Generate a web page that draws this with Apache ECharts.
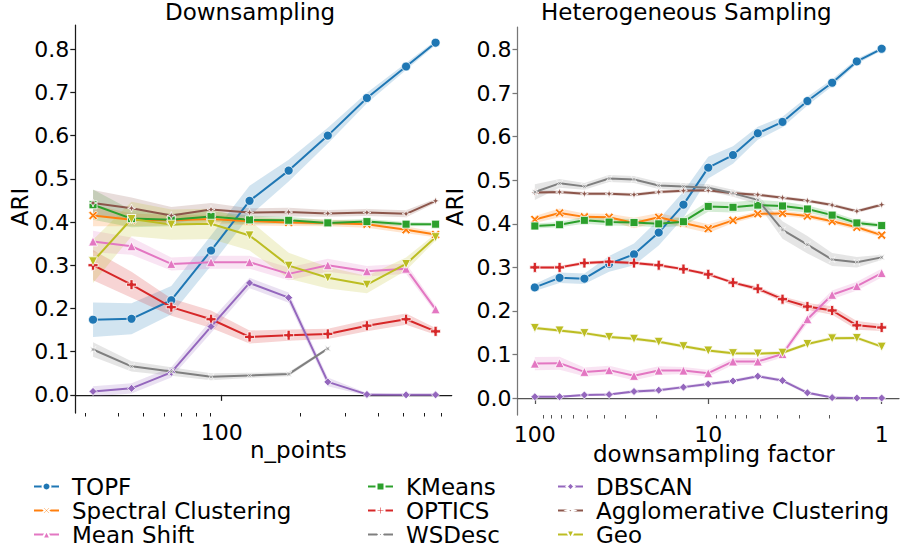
<!DOCTYPE html>
<html><head><meta charset="utf-8">
<script src="https://cdn.jsdelivr.net/npm/echarts@6/dist/echarts.min.js"></script>
<style>html,body{margin:0;padding:0;background:#fff}#c{width:900px;height:550px}</style>
</head><body><div id="c"></div>
<script>
// ---------- data ----------
const nPoints = [32, 45, 64, 91, 128, 181, 256, 362, 512, 665];
const dsFactor = [100, 72, 51.8, 37.3, 26.8, 19.3, 13.9, 10, 7.2, 5.18, 3.73, 2.68, 1.93, 1.39, 1];

const methods = ['TOPF','Spectral Clustering','Mean Shift','KMeans','OPTICS','WSDesc','DBSCAN','Agglomerative Clustering','Geo'];

// Downsampling (mean, CI half width)
const downTOPF   = [0.174, 0.176, 0.219, 0.334, 0.449, 0.519, 0.600, 0.687, 0.760, 0.815];
const downTOPFci = [0.040, 0.036, 0.033, 0.035, 0.035, 0.025, 0.018, 0.012, 0.008, 0.005];
const downSpec   = [0.415, 0.405, 0.404, 0.407, 0.402, 0.399, 0.398, 0.395, 0.382, 0.371];
const downSpecci = [0.025, 0.015, 0.012, 0.010, 0.010, 0.008, 0.008, 0.008, 0.008, 0.006];
const downMS     = [0.355, 0.344, 0.303, 0.307, 0.307, 0.280, 0.300, 0.286, 0.292, 0.198];
const downMSci   = [0.025, 0.020, 0.015, 0.015, 0.015, 0.015, 0.015, 0.012, 0.012, 0.008];
const downKM     = [0.440, 0.408, 0.405, 0.413, 0.405, 0.404, 0.398, 0.401, 0.395, 0.395];
const downKMci   = [0.035, 0.020, 0.015, 0.012, 0.010, 0.008, 0.006, 0.006, 0.005, 0.004];
const downOPT    = [0.300, 0.255, 0.203, 0.175, 0.134, 0.138, 0.141, 0.160, 0.175, 0.147];
const downOPTci  = [0.035, 0.030, 0.020, 0.020, 0.015, 0.013, 0.012, 0.013, 0.013, 0.008];
const downWSD    = [0.105, 0.066, 0.054, 0.042, 0.045, 0.048, 0.107];
const downWSDci  = [0.017, 0.012, 0.010, 0.008, 0.006, 0.005, 0.003];
const downDB     = [0.008, 0.015, 0.052, 0.158, 0.259, 0.225, 0.030, 0.001, 0.000, 0.000];
const downDBci   = [0.012, 0.012, 0.012, 0.015, 0.012, 0.012, 0.010, 0.003, 0.001, 0.001];
const downAGG    = [0.444, 0.432, 0.415, 0.429, 0.422, 0.423, 0.420, 0.422, 0.419, 0.449];
const downAGGci  = [0.030, 0.025, 0.020, 0.015, 0.010, 0.010, 0.008, 0.008, 0.008, 0.005];
const downGEO    = [0.309, 0.407, 0.394, 0.396, 0.369, 0.299, 0.271, 0.255, 0.303, 0.365];
const downGEOci  = [0.050, 0.040, 0.035, 0.035, 0.035, 0.030, 0.025, 0.020, 0.015, 0.008];

// Heterogeneous sampling
const hetTOPF   = [0.254, 0.276, 0.274, 0.308, 0.330, 0.380, 0.444, 0.529, 0.558, 0.608, 0.634, 0.682, 0.724, 0.773, 0.802];
const hetTOPFci = [0.008, 0.012, 0.012, 0.018, 0.025, 0.030, 0.030, 0.025, 0.020, 0.015, 0.012, 0.010, 0.008, 0.006, 0.004];
const hetSpec   = [0.410, 0.425, 0.416, 0.415, 0.402, 0.415, 0.402, 0.389, 0.408, 0.423, 0.424, 0.418, 0.406, 0.392, 0.374];
const hetSpecci = [0.008, 0.010, 0.008, 0.008, 0.012, 0.010, 0.010, 0.010, 0.006, 0.006, 0.006, 0.006, 0.006, 0.006, 0.005];
const hetMS     = [0.079, 0.080, 0.060, 0.064, 0.051, 0.063, 0.063, 0.057, 0.084, 0.084, 0.101, 0.181, 0.237, 0.257, 0.287];
const hetMSci   = [0.015, 0.015, 0.010, 0.010, 0.010, 0.010, 0.008, 0.008, 0.008, 0.008, 0.008, 0.010, 0.010, 0.010, 0.010];
const hetKM     = [0.395, 0.398, 0.408, 0.404, 0.403, 0.400, 0.405, 0.440, 0.438, 0.443, 0.441, 0.434, 0.420, 0.402, 0.396];
const hetKMci   = [0.006, 0.006, 0.008, 0.008, 0.008, 0.008, 0.010, 0.012, 0.012, 0.012, 0.010, 0.008, 0.008, 0.006, 0.005];
const hetOPT    = [0.300, 0.300, 0.310, 0.313, 0.310, 0.305, 0.296, 0.284, 0.265, 0.251, 0.227, 0.210, 0.201, 0.167, 0.162];
const hetOPTci  = [0.004, 0.004, 0.004, 0.004, 0.004, 0.004, 0.004, 0.004, 0.004, 0.005, 0.006, 0.008, 0.010, 0.010, 0.008];
const hetWSD    = [0.473, 0.493, 0.486, 0.504, 0.502, 0.488, 0.486, 0.483, 0.470, 0.455, 0.386, 0.352, 0.318, 0.312, 0.323];
const hetWSDci  = [0.018, 0.010, 0.008, 0.008, 0.008, 0.008, 0.008, 0.008, 0.008, 0.010, 0.020, 0.020, 0.015, 0.012, 0.006];
const hetDB     = [0.003, 0.003, 0.007, 0.008, 0.015, 0.018, 0.025, 0.032, 0.039, 0.050, 0.040, 0.012, 0.001, 0.000, 0.000];
const hetDBci   = [0.003, 0.003, 0.003, 0.003, 0.004, 0.004, 0.004, 0.004, 0.004, 0.004, 0.004, 0.004, 0.002, 0.001, 0.001];
const hetAGG    = [0.472, 0.473, 0.469, 0.469, 0.467, 0.473, 0.476, 0.477, 0.470, 0.467, 0.460, 0.453, 0.443, 0.429, 0.444];
const hetAGGci  = [0.004, 0.004, 0.004, 0.004, 0.004, 0.004, 0.004, 0.004, 0.004, 0.004, 0.004, 0.004, 0.004, 0.004, 0.004];
const hetGEO    = [0.161, 0.155, 0.149, 0.140, 0.136, 0.129, 0.119, 0.109, 0.103, 0.102, 0.104, 0.124, 0.137, 0.138, 0.118];
const hetGEOci  = [0.004, 0.004, 0.004, 0.004, 0.004, 0.004, 0.004, 0.004, 0.004, 0.004, 0.004, 0.004, 0.004, 0.004, 0.004];

// tick labels
const yTicks = [0, 0.1, 0.2, 0.3, 0.4, 0.5, 0.6, 0.7, 0.8];
const leftXMajor = [100];
const leftXMinor = [30, 40, 50, 60, 70, 80, 90, 200, 300, 400, 500, 600, 700];
const rightXMajor = [100, 10, 1];
const rightXMinor = [90, 80, 70, 60, 50, 40, 30, 20, 9, 8, 7, 6, 5, 4, 3, 2];

// ---------- styles ----------
const FONT = 'DejaVu Sans';
const colorOf = {
  'TOPF':'#1f77b4','Spectral Clustering':'#ff7f0e','KMeans':'#2ca02c','OPTICS':'#d62728',
  'DBSCAN':'#9467bd','Agglomerative Clustering':'#8c564b','Mean Shift':'#e377c2','WSDesc':'#7f7f7f','Geo':'#bcbd22'
};
const symbolOf = {
  'TOPF':'circle',
  'Spectral Clustering':'path://M0,2 L2,0 L5,3 L8,0 L10,2 L7,5 L10,8 L8,10 L5,7 L2,10 L0,8 L3,5 Z',
  'KMeans':'rect',
  'OPTICS':'path://M3.4,0 H6.6 V3.4 H10 V6.6 H6.6 V10 H3.4 V6.6 H0 V3.4 H3.4 Z',
  'DBSCAN':'diamond',
  'Agglomerative Clustering':'path://M5,0 L6.3,3.7 L10,5 L6.3,6.3 L5,10 L3.7,6.3 L0,5 L3.7,3.7 Z',
  'Mean Shift':'triangle',
  'WSDesc':'path://M0,0 L5,3.2 L10,0 L6.8,5 L10,10 L5,6.8 L0,10 L3.2,5 Z',
  'Geo':'path://M0,0 L10,0 L5,9 Z'
};
const sizeOf = {'TOPF':9,'Spectral Clustering':9,'KMeans':8,'OPTICS':10,'DBSCAN':8,'Agglomerative Clustering':8,'Mean Shift':9,'WSDesc':6,'Geo':9};

const downData = {
  'TOPF':[downTOPF,downTOPFci],'Spectral Clustering':[downSpec,downSpecci],'Mean Shift':[downMS,downMSci],
  'KMeans':[downKM,downKMci],'OPTICS':[downOPT,downOPTci],'WSDesc':[downWSD,downWSDci],
  'DBSCAN':[downDB,downDBci],'Agglomerative Clustering':[downAGG,downAGGci],'Geo':[downGEO,downGEOci]
};
const hetData = {
  'TOPF':[hetTOPF,hetTOPFci],'Spectral Clustering':[hetSpec,hetSpecci],'Mean Shift':[hetMS,hetMSci],
  'KMeans':[hetKM,hetKMci],'OPTICS':[hetOPT,hetOPTci],'WSDesc':[hetWSD,hetWSDci],
  'DBSCAN':[hetDB,hetDBci],'Agglomerative Clustering':[hetAGG,hetAGGci],'Geo':[hetGEO,hetGEOci]
};
const drawOrder = ['TOPF','Spectral Clustering','KMeans','OPTICS','DBSCAN','Agglomerative Clustering','Mean Shift','WSDesc','Geo'];

const series = [];
function addMethod(g, xs, name, ys, ci) {
  const c = colorOf[name];
  const xi = g === 0 ? 0 : 2, yi = g;
  const n = ys.length;
  series.push({type:'custom', xAxisIndex: xi, yAxisIndex: yi, silent:true, z:1,
    data: ys.map((y,i)=>[xs[i], y]),
    encode:{x:0, y:1},
    renderItem: function(params, api) {
      if (params.dataIndex !== 0) return null;
      const up = [], dn = [];
      for (let i = 0; i < n; i++) {
        up.push(api.coord([xs[i], ys[i] + ci[i]]));
        dn.push(api.coord([xs[i], ys[i] - ci[i]]));
      }
      return {type:'polygon', shape:{points: up.concat(dn.reverse())}, style:{fill:c, opacity:0.2}};
    }});
  series.push({type:'line', name: name, xAxisIndex: xi, yAxisIndex: yi,
    data: ys.map((y,i)=>[xs[i], y]), symbol: symbolOf[name], symbolSize: sizeOf[name],
    itemStyle:{color:c, borderColor:'#fff', borderWidth:0.8}, lineStyle:{color:c, width:2}, z:3});
}
drawOrder.forEach(m => addMethod(0, nPoints, m, downData[m][0], downData[m][1]));
drawOrder.forEach(m => addMethod(1, dsFactor, m, hetData[m][0], hetData[m][1]));

const lblStyle = {color:'#000', fontSize:22, fontFamily:FONT};
function xAxisPair(g, min, max, major, minor, inverse, lineColor) {
  return [
    {type:'log', logBase:10, gridIndex:g, position:'bottom', min, max, inverse,
      axisLine:{show:true, lineStyle:{color:lineColor, width:1.25}},
      axisTick:{show:true, customValues: major, length:6, lineStyle:{color:lineColor, width:1.25}},
      axisLabel:{customValues: major, formatter: v => String(Math.round(v)), margin:8, ...lblStyle},
      splitLine:{show:false}, minorTick:{show:false}},
    {type:'log', logBase:10, gridIndex:g, position:'bottom', min, max, inverse,
      axisLine:{show:false},
      axisTick:{show:true, customValues: minor, length:3.5, lineStyle:{color:lineColor, width:1}},
      axisLabel:{show:false}, splitLine:{show:false}}
  ];
}
function yAxis(g, min, max, lineColor) {
  return {type:'value', gridIndex:g, min, max,
    axisLine:{show:true, lineStyle:{color:lineColor, width:1.25}},
    axisTick:{show:true, customValues: yTicks, length:5, lineStyle:{color:lineColor, width:1.25}},
    axisLabel:{customValues: yTicks, formatter: v => v.toFixed(1), margin:6, ...lblStyle},
    splitLine:{show:false}};
}

const legendCommon = {orient:'vertical', top:475, height:76, padding:0, itemWidth:25, itemHeight:10, itemGap:1,
  textStyle:{fontSize:23, lineHeight:23, color:'#000', fontFamily:FONT, padding:[0,0,0,8]}, selectedMode:false};

const option = {
  animation:false,
  backgroundColor:'#fff',
  textStyle:{fontFamily:FONT},
  title:[
    {text:'Downsampling', left:165, top:0, padding:0, textStyle:{fontSize:23, fontWeight:'normal', color:'#000', fontFamily:FONT}},
    {text:'Heterogeneous Sampling', left:541, top:0, padding:0, textStyle:{fontSize:23, fontWeight:'normal', color:'#000', fontFamily:FONT}}
  ],
  grid:[
    {left:75.3, top:25, width:376.4, height:388},
    {left:517.5, top:27, width:381.5, height:388}
  ],
  xAxis:[
    ...xAxisPair(0, 27.35, 767, leftXMajor, leftXMinor, false, '#1a1a1a'),
    ...xAxisPair(1, 0.7943, 125.9, rightXMajor, rightXMinor, true, '#555')
  ],
  yAxis:[ yAxis(0, -0.042, 0.856, '#1a1a1a'), yAxis(1, -0.039, 0.852, '#777') ],
  legend:[
    {...legendCommon, left:33, data:['TOPF','Spectral Clustering','Mean Shift']},
    {...legendCommon, left:367, data:['KMeans','OPTICS','WSDesc']},
    {...legendCommon, left:557, data:['DBSCAN','Agglomerative Clustering','Geo']}
  ],
  graphic:[
    {type:'text', left:250, top:438, style:{text:'n_points', fontSize:23, fontFamily:FONT, fill:'#000'}},
    {type:'text', left:593, top:442, style:{text:'downsampling factor', fontSize:23, fontFamily:FONT, fill:'#000'}},
    {type:'text', x:20, y:207, rotation:Math.PI/2, style:{text:'ARI', align:'center', verticalAlign:'middle', fontSize:23, fontFamily:FONT, fill:'#000'}},
    {type:'text', x:455, y:207, rotation:Math.PI/2, style:{text:'ARI', align:'center', verticalAlign:'middle', fontSize:23, fontFamily:FONT, fill:'#000'}}
  ],
  series
};
const chart = echarts.init(document.getElementById('c'), null, {renderer:'svg'});
chart.setOption(option);
</script>
</body></html>
